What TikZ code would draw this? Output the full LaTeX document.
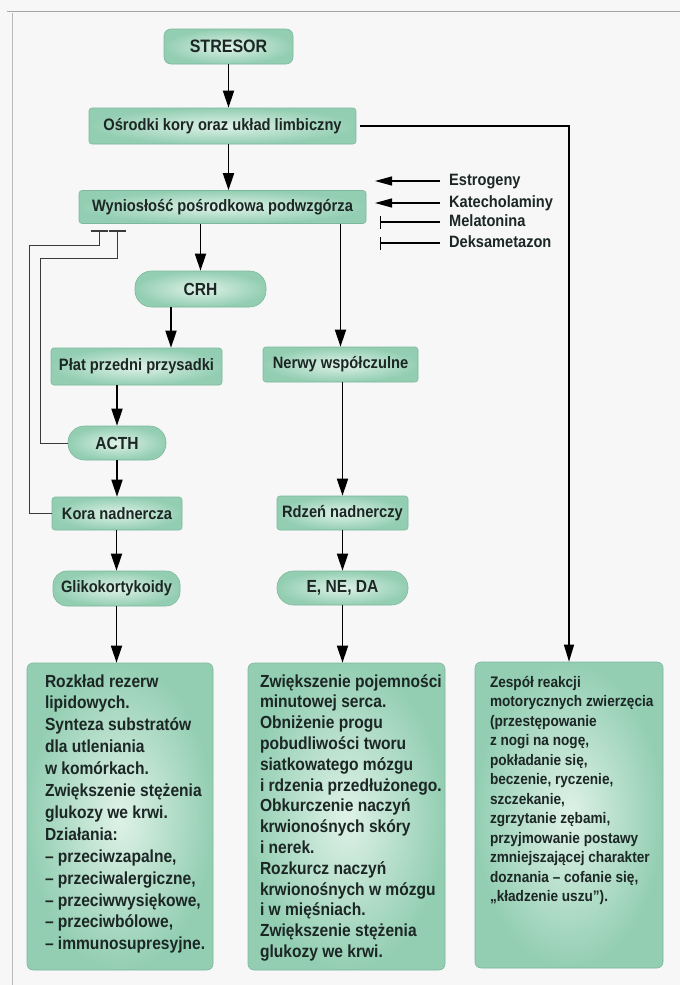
\documentclass[tikz,border=0pt]{standalone}
\usepackage{fontspec}
\setmainfont{Liberation Sans}[FakeStretch=0.89]
\usetikzlibrary{arrows.meta,calc}
\definecolor{boxin}{HTML}{DFF2E8}
\definecolor{boxout}{HTML}{93CEB2}
\definecolor{boxline}{HTML}{7DB89E}
\definecolor{txt}{HTML}{1B2625}
\definecolor{bg}{HTML}{F6F7F6}
\definecolor{fbcol}{HTML}{3A3A3A}
\newcommand{\boxlines}[4]{\parbox[c][#1][t]{#2}{#3\begin{tabular}[t]{@{}l@{}}#4\end{tabular}}}
\begin{document}
\begin{tikzpicture}[x=1pt,y=-1pt,
  box/.style={draw=boxline, line width=0.6pt, inner color=boxin, outer color=boxout,
    rounded corners=3pt, inner sep=0pt, text=txt, align=center,
    font=\bfseries\fontsize{16.5}{19}\selectfont},
  pill/.style={box, rounded corners=16.5pt, font=\bfseries\fontsize{17.5}{20}\selectfont},
  bigbox/.style={draw=boxline, line width=0.6pt, inner color=boxin, outer color=boxout,
    rounded corners=6pt, inner ysep=0pt, text=txt, font=\bfseries},
  lab/.style={anchor=west, inner sep=0pt, text height=12pt, text depth=3pt, text=txt,
    font=\bfseries\fontsize{16.4}{19}\selectfont},
  arr/.style={line width=1.8pt, -{Triangle[length=17pt,width=11pt]}},
  arrthin/.style={line width=1.3pt, -{Triangle[length=17pt,width=10pt]}},
  sarr/.style={line width=1.2pt, -{Triangle[length=17pt,width=9pt]}, shorten <=9pt},
  sinh/.style={line width=1.2pt, -{Bar[width=13pt]}, shorten <=9pt},
  fb/.style={line width=0.9pt, draw=fbcol, -{Bar[width=17pt,line width=1.6pt]}}
]
\useasboundingbox (0,0) rectangle (680,985);
\fill[bg] (0,0) rectangle (680,985);
\draw[gray!70, line width=1pt] (7,11) -- (680,11);
\draw[gray!55, line width=0.8pt] (12,13) -- (12,985);

% upper nodes
\node[box, rounded corners=7pt, minimum width=129pt, minimum height=35pt,
  font=\bfseries\fontsize{18}{21}\selectfont] (str) at (228.5,46.5) {STRESOR};
\node[box, minimum width=267pt, minimum height=36pt] (osr) at (222.5,126) {Ośrodki kory oraz układ limbiczny};
\node[box, minimum width=287pt, minimum height=33pt] (wyn) at (222.5,207) {Wyniosłość pośrodkowa podwzgórza};
\node[pill, minimum width=131pt, minimum height=36pt] (crh) at (200.5,289) {CRH};
\node[box, minimum width=171pt, minimum height=37pt] (pl) at (136.5,366.5) {Płat przedni przysadki};
\node[box, minimum width=155pt, minimum height=35pt] (ner) at (340.5,364.5) {Nerwy współczulne};
\node[pill, minimum width=98pt, minimum height=34pt] (acth) at (117,443) {ACTH};
\node[box, minimum width=130pt, minimum height=33pt] (kora) at (117,513.5) {Kora nadnercza};
\node[box, minimum width=131pt, minimum height=34pt] (rdz) at (342.5,513) {Rdzeń nadnerczy};
\node[box, rounded corners=14pt, minimum width=127pt, minimum height=35pt] (gl) at (116.5,588.5) {Glikokortykoidy};
\node[pill, minimum width=131pt, minimum height=34pt] (ena) at (342.5,588) {E, NE, DA};

% side labels
\node[lab] (estr) at (449,181) {Estrogeny};
\node[lab] (kat) at (449,203) {Katecholaminy};
\node[lab] (mel) at (449,222) {Melatonina};
\node[lab] (dek) at (449,243) {Deksametazon};
\coordinate (pe) at (375,181);
\coordinate (pk) at (375,203);
\coordinate (pm) at (380,222);
\coordinate (pd) at (380,243);

% bottom boxes
\node[bigbox, inner xsep=18pt] (lb) at (120,816.5) {\boxlines{307pt}{150pt}{\fontsize{17.5}{21.9}\selectfont}{%
\rule{0pt}{24pt}Rozkład rezerw\\
lipidowych.\\
Synteza substratów\\
dla utleniania\\
w komórkach.\\
Zwiększenie stężenia\\
glukozy we krwi.\\
Działania:\\
– przeciwzapalne,\\
– przeciwalergiczne,\\
– przeciwwysiękowe,\\
– przeciwbólowe,\\
– immunosupresyjne.}};
\node[bigbox, inner xsep=12pt] (mb) at (346.5,816.5) {\boxlines{307pt}{173pt}{\fontsize{17.5}{20.8}\selectfont}{%
\rule{0pt}{24pt}Zwiększenie pojemności\\
minutowej serca.\\
Obniżenie progu\\
pobudliwości tworu\\
siatkowatego mózgu\\
i rdzenia przedłużonego.\\
Obkurczenie naczyń\\
krwionośnych skóry\\
i nerek.\\
Rozkurcz naczyń\\
krwionośnych w mózgu\\
i w mięśniach.\\
Zwiększenie stężenia\\
glukozy we krwi.}};
\node[bigbox, inner xsep=15pt] (rb) at (569,815) {\boxlines{306pt}{158pt}{\fontsize{15.3}{19.5}\selectfont}{%
\rule{0pt}{25pt}Zespół reakcji\\
motorycznych zwierzęcia\\
(przestępowanie\\
z nogi na nogę,\\
pokładanie się,\\
beczenie, ryczenie,\\
szczekanie,\\
zgrzytanie zębami,\\
przyjmowanie postawy\\
zmniejszającej charakter\\
doznania – cofanie się,\\
„kładzenie uszu”).}};

% main arrows
\draw[arr] (str.south) -- (str.south |- osr.north);
\draw[arr] (str.south |- osr.south) -- (str.south |- wyn.north);
\draw[arr] (crh.north |- wyn.south) -- (crh.north);
\draw[arr] (ner.north |- wyn.south) -- (ner.north);
\draw[arr] ([xshift=-29.5pt]crh.south) -- ([xshift=-29.5pt]crh.south |- pl.north);
\draw[arr] (acth.north |- pl.south) -- (acth.north);
\draw[arr] (acth.south) -- (kora.north);
\draw[arr] (gl.north |- kora.south) -- (gl.north);
\draw[arr] (gl.south) -- (gl.south |- lb.north);
\draw[arr] (rdz.north |- ner.south) -- (rdz.north);
\draw[arr] (rdz.south) -- (ena.north);
\draw[arr] (ena.south) -- (ena.south |- mb.north);
\draw[arrthin, shorten <=4pt] (osr.east) -| (rb.north);

% side influences
\draw[sarr] (estr.west) -- (pe);
\draw[sarr] (kat.west) -- (pk);
\draw[sinh] (mel.west) -- (pm);
\draw[sinh] (dek.west) -- (pd);

% feedback loops
\coordinate (b1) at (99,230);
\coordinate (b2) at (117,230);
\draw[fb] (kora.west) -- ++(-22,0) |- (99,245) -- (b1);
\draw[fb] (acth.west) -- ++(-27,0) |- (117,258) -- (b2);
\end{tikzpicture}
\end{document}
